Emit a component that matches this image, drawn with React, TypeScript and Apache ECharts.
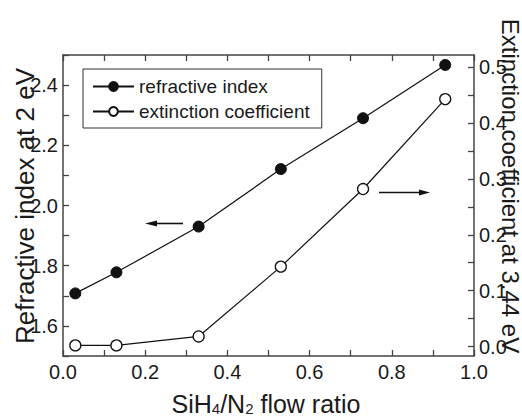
import React, { useEffect, useRef } from 'react';
import * as echarts from 'echarts';

const flowRatio = [0.03, 0.13, 0.33, 0.53, 0.73, 0.93];
const refractiveIndex = [1.708, 1.778, 1.93, 2.121, 2.29, 2.467];
const extinctionCoeff = [0.002, 0.002, 0.018, 0.143, 0.282, 0.443];
const xTickLabels = ['0.0', '0.2', '0.4', '0.6', '0.8', '1.0'];
const leftTickLabels = ['1.6', '1.8', '2.0', '2.2', '2.4'];
const rightTickLabels = [0, 0.1, 0.2, 0.3, 0.4, 0.5];
const rightTicks = [0, 0.05, 0.1, 0.15, 0.2, 0.25, 0.3, 0.35, 0.4, 0.45, 0.5];

const FONT = '"Liberation Sans", Arial, Helvetica, sans-serif';
const AXIS_COLOR = '#444';
const TEXT_COLOR = '#1a1a1a';

export default function App() {
  const ref = useRef<HTMLDivElement>(null);
  useEffect(() => {
    if (!ref.current) return;
    const chart = echarts.init(ref.current, undefined, { renderer: 'svg' });
    const axisLine = { show: true, onZero: false, lineStyle: { color: AXIS_COLOR, width: 1.5 } };
    const tick = { show: true, inside: true, length: 6, lineStyle: { color: AXIS_COLOR, width: 1.3 } };
    const labelStyle = { color: TEXT_COLOR, fontSize: 20, fontFamily: FONT };
    const option: any = {
      animation: false,
      backgroundColor: '#fff',
      textStyle: { fontFamily: FONT },
      grid: { left: 63, right: 48, top: 55, bottom: 61, containLabel: false },
      xAxis: [
        {
          type: 'value', position: 'bottom', min: 0, max: 1, interval: 0.1,
          axisLine, axisTick: tick, splitLine: { show: false },
          axisLabel: {
            ...labelStyle, margin: 6,
            formatter: (v: number) => {
              const s = v.toFixed(1);
              return xTickLabels.includes(s) ? s : '';
            },
          },
        },
        {
          type: 'value', position: 'top', min: 0, max: 1, interval: 0.1,
          axisLine, axisTick: tick, axisLabel: { show: false }, splitLine: { show: false },
        },
      ],
      yAxis: [
        {
          type: 'value', position: 'left', min: 1.5, max: 2.5, interval: 0.1,
          axisLine, axisTick: tick, splitLine: { show: false },
          axisLabel: {
            ...labelStyle, margin: 5,
            formatter: (v: number) => {
              const s = v.toFixed(1);
              return leftTickLabels.includes(s) ? s : '';
            },
          },
        },
        {
          type: 'value', position: 'right', min: -0.017, max: 0.522,
          axisLine, splitLine: { show: false },
          axisTick: { ...tick, customValues: rightTicks },
          axisLabel: {
            ...labelStyle, margin: 5, customValues: rightTickLabels,
            formatter: (v: number) => v.toFixed(1),
          },
        },
      ],
      legend: {
        orient: 'vertical', left: 83, top: 69,
        padding: [8, 12, 7, 9], itemGap: 6, itemWidth: 41, itemHeight: 11,
        borderColor: '#333', borderWidth: 1,
        textStyle: { color: TEXT_COLOR, fontSize: 19, fontFamily: FONT, lineHeight: 19 },
        data: ['refractive index', 'extinction coefficient'],
      },
      series: [
        {
          name: 'refractive index', type: 'line', xAxisIndex: 0, yAxisIndex: 0,
          data: flowRatio.map((x, i) => [x, refractiveIndex[i]]),
          symbol: 'circle', symbolSize: 11,
          lineStyle: { color: '#111', width: 1.2 },
          itemStyle: { color: '#111', borderColor: '#111', borderWidth: 1 },
        },
        {
          name: 'extinction coefficient', type: 'line', xAxisIndex: 0, yAxisIndex: 1,
          data: flowRatio.map((x, i) => [x, extinctionCoeff[i]]),
          symbol: 'circle', symbolSize: 11,
          lineStyle: { color: '#111', width: 1.2 },
          itemStyle: { color: '#fff', borderColor: '#111', borderWidth: 1.3 },
        },
      ],
      graphic: [
        {
          type: 'text', x: 25, y: 206, rotation: Math.PI / 2, z: 100,
          style: { text: 'Refractive index at 2 eV', fontSize: 26, fontFamily: FONT, fill: TEXT_COLOR, align: 'center', verticalAlign: 'middle' },
        },
        {
          type: 'text', x: 510, y: 186, rotation: -Math.PI / 2, z: 100,
          style: { text: 'Extinction coefficient at 3.44 eV', fontSize: 24, fontFamily: FONT, fill: TEXT_COLOR, align: 'center', verticalAlign: 'middle' },
        },
        {
          type: 'text', x: 266, y: 402, z: 100,
          style: {
            text: '{a|SiH}{s|4}{a|/N}{s|2}{a| flow ratio}',
            align: 'center', verticalAlign: 'middle', fill: TEXT_COLOR,
            rich: {
              a: { fontSize: 25, fontFamily: FONT, fill: TEXT_COLOR, verticalAlign: 'bottom', lineHeight: 28 },
              s: { fontSize: 15, fontFamily: FONT, fill: TEXT_COLOR, verticalAlign: 'bottom', lineHeight: 6 },
            },
          },
        },
        { type: 'line', z: 100, shape: { x1: 155, y1: 223.5, x2: 183, y2: 223.5 }, style: { stroke: '#111', lineWidth: 1.6 } },
        { type: 'polygon', z: 100, shape: { points: [[145, 223.5], [157, 220.5], [157, 226.5]] }, style: { fill: '#111' } },
        { type: 'line', z: 100, shape: { x1: 379, y1: 192.5, x2: 421, y2: 192.5 }, style: { stroke: '#111', lineWidth: 1.6 } },
        { type: 'polygon', z: 100, shape: { points: [[430, 192.5], [419, 189.5], [419, 195.5]] }, style: { fill: '#111' } },
      ],
    };
    chart.setOption(option);
    return () => chart.dispose();
  }, []);
  return <div ref={ref} style={{ width: 522, height: 417, position: 'absolute', left: 0, top: 0 }} />;
}
